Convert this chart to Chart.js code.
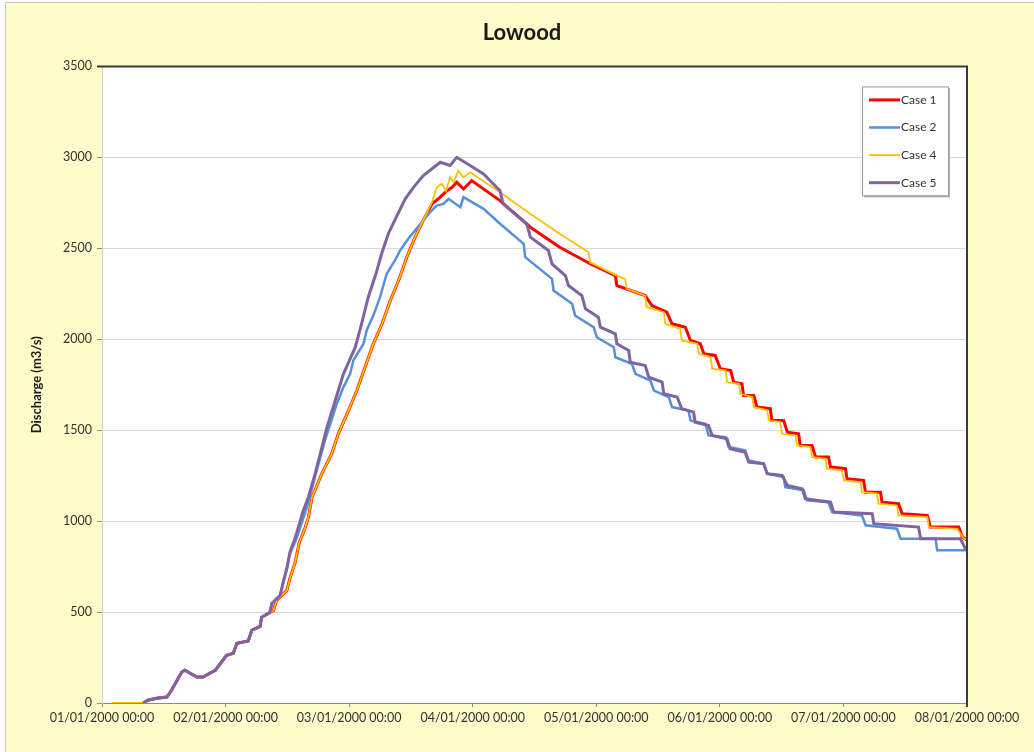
<!DOCTYPE html>
<html>
<head>
<meta charset="utf-8">
<title>Lowood</title>
<script src="https://cdn.jsdelivr.net/npm/chart.js@4.4.1/dist/chart.umd.min.js"></script>
<style>
  html, body { margin: 0; padding: 0; background: #fff; }
  canvas { display: block; }
</style>
</head>
<body>
<canvas id="lowoodChart" width="1034" height="752"></canvas>
<script>
// Tick labels (one per day, x values are hours from 01/01/2000 00:00)
const dayLabels = ['01/01/2000 00:00', '02/01/2000 00:00', '03/01/2000 00:00', '04/01/2000 00:00',
  '05/01/2000 00:00', '06/01/2000 00:00', '07/01/2000 00:00', '08/01/2000 00:00'];

const caseNames = ['Case 1', 'Case 2', 'Case 4', 'Case 5'];

// common start of the hydrograph, all cases
const earlyHours = [8.0, 8.9, 10.6, 12.6, 13.5, 15.5, 16.1, 18.4, 19.6, 22.0, 24.2, 25.5, 26.2, 28.4, 29.1, 30.7, 31.0, 32.6];
const earlyFlow = [0, 15, 26, 33, 70, 170, 180, 143, 143, 180, 262, 273, 328, 341, 400, 421, 471, 498];

// Case 1
const case1Hours = [33.3, 33.9, 35.9, 36.5, 37.5, 38.3, 39.4, 40.1, 40.8, 42.7, 44.6, 45.9, 47.6, 49.5, 51.1, 52.7, 54.4, 56.0,
  57.6, 59.2, 60.8, 62.4, 64.1, 65.7, 67.0, 68.0, 68.9, 70.2, 71.8, 77.3, 83.2, 88.9, 94.8, 99.7, 100.0, 105.5, 106.8,
  109.7, 110.7, 113.3, 114.3, 116.2, 116.9, 119.1, 120.1, 122.1, 122.7, 124.3, 124.6, 126.6, 127.2, 129.8, 130.1, 132.4,
  133.1, 135.3, 135.6, 137.9, 138.6, 141.1, 141.5, 144.4, 144.7, 147.9, 148.3, 151.2, 151.5, 154.7, 155.4, 160.3, 160.9,
  166.4, 167.1, 168];
const case1Flow = [509, 564, 619, 685, 770, 880, 960, 1022, 1132, 1261, 1370, 1480, 1590, 1718, 1847, 1975, 2085, 2213,
  2323, 2451, 2561, 2653, 2744, 2781, 2817, 2835, 2863, 2826, 2872, 2762, 2616, 2506, 2415, 2350, 2295, 2240, 2185,
  2149, 2085, 2066, 1993, 1975, 1920, 1911, 1838, 1828, 1764, 1755, 1691, 1691, 1627, 1618, 1553, 1553, 1489,
  1480, 1416, 1416, 1352, 1352, 1297, 1288, 1233, 1224, 1159, 1159, 1104, 1096, 1041, 1031, 967,
  967, 912, 897];

// Case 2
const case2Hours = [33.0, 34.6, 35.2, 35.9, 36.5, 37.8, 39.8, 41.7, 43.3, 45.6, 46.9, 48.2, 48.8, 50.8, 51.4, 52.7, 54.0,
  55.3, 56.9, 57.9, 59.5, 60.8, 62.1, 63.7, 65.0, 66.3, 67.3, 69.6, 70.2, 74.1, 77.3, 81.9, 82.2, 87.4, 87.7, 91.3, 91.9,
  95.5, 96.1, 99.4, 99.7, 102.9, 103.6, 106.5, 107.2, 110.1, 110.7, 113.9, 114.3, 117.2, 117.8, 121.1, 121.7, 124.9,
  125.6, 128.5, 129.2, 132.4, 132.7, 136.3, 136.9, 141.1, 141.8, 147.6, 148.3, 154.4, 155.1, 161.9, 162.2, 168];
const case2Flow = [548, 592, 665, 740, 820, 905, 1077, 1279, 1444, 1645, 1737, 1810, 1883, 1975, 2048, 2130, 2231,
  2360, 2433, 2488, 2552, 2598, 2643, 2698, 2735, 2744, 2772, 2726, 2781, 2717, 2635, 2524, 2451, 2332, 2268, 2195, 2130,
  2066, 2011, 1956, 1901, 1865, 1810, 1773, 1718, 1682, 1627, 1608, 1553, 1535, 1471, 1462, 1407, 1389,
  1334, 1316, 1261, 1242, 1187, 1169, 1114, 1104, 1050, 1031, 977, 958, 903, 903, 840, 840];

// Case 4 (follows Case 1 on the rising limb)
const case4LeadHours = [1.9];
const case4LeadFlow = [0];
const case4Hours = [64.1, 65.0, 66.0, 66.8, 67.6, 68.3, 69.2, 70.2, 71.5, 77.3, 83.2, 88.9, 94.5, 94.8, 100.0, 101.6,
  101.9, 105.5, 105.8, 109.1, 109.4, 112.3, 112.6, 115.6, 115.9, 118.2, 118.5, 121.1, 121.4, 123.7, 124.0, 126.3, 126.6,
  129.2, 129.5, 131.7, 132.1, 134.7, 135.0, 137.6, 137.9, 140.5, 140.8, 143.7, 144.1, 147.3, 147.6, 150.5, 150.8, 154.4,
  154.7, 160.3, 160.6, 166.1, 167.4, 168];
const case4Flow = [2753, 2835, 2854, 2815, 2890, 2863, 2927, 2890, 2918, 2808, 2689, 2580, 2478, 2423, 2350, 2332,
  2277, 2240, 2176, 2149, 2085, 2057, 1993, 1975, 1920, 1902, 1838, 1828, 1764, 1755, 1700, 1682, 1627,
  1609, 1553, 1544, 1480, 1471, 1416, 1407, 1352, 1343, 1288, 1279, 1224, 1214, 1159, 1151, 1096, 1086,
  1031, 1022, 967, 958, 903, 900];

// Case 5
const case5Hours = [33.0, 34.6, 35.2, 35.9, 36.5, 37.5, 39.1, 40.1, 41.4, 42.4, 43.7, 44.9, 45.9, 46.9, 47.9, 49.2, 50.5,
  51.7, 53.1, 54.4, 55.6, 57.3, 58.9, 60.5, 62.4, 64.1, 65.7, 67.6, 68.9, 71.5, 74.1, 77.3, 77.9, 82.5, 83.2, 86.7, 87.4,
  90.0, 90.6, 93.2, 93.9, 96.4, 96.8, 99.7, 100.0, 102.3, 102.6, 105.5, 106.2, 108.8, 109.1, 111.7, 112.6, 114.9, 115.2,
  117.8, 118.5, 121.4, 122.0, 124.9, 125.6, 128.5, 129.2, 132.1, 133.1, 136.0, 136.6, 141.5, 142.1, 149.6, 149.9, 158.6,
  159.0, 166.7, 167.7, 168];
const case5Flow = [548, 592, 665, 740, 830, 905, 1059, 1133, 1261, 1371, 1517, 1627, 1718, 1810, 1874, 1956, 2094,
  2231, 2350, 2478, 2579, 2680, 2772, 2835, 2900, 2937, 2973, 2955, 3000, 2955, 2909, 2817, 2744, 2634, 2561, 2488, 2414,
  2350, 2295, 2240, 2167, 2121, 2066, 2030, 1975, 1938, 1874, 1856, 1791, 1764, 1700, 1682, 1618, 1599, 1544,
  1526, 1471, 1453, 1398, 1379, 1324, 1316, 1261, 1251, 1196, 1178, 1123, 1104, 1050, 1041, 986, 967,
  903, 903, 848, 848];

const paperColor = '#fffcc9',
  redColor = '#ff0000',
  blueColor = '#5590d8',
  goldColor = '#ffc000',
  purpleColor = '#8064a2',
  fontFamily = 'Lato, "Open Sans", sans-serif';

function series(hours, flow) {
  return hours.map(function(h, i) { return {x: h, y: flow[i]}; });
}

const early = series(earlyHours, earlyFlow);
const case1 = early.concat(series(case1Hours, case1Flow));
const case2 = early.concat(series(case2Hours, case2Flow));
const case4 = series(case4LeadHours, case4LeadFlow)
  .concat(early, series(case1Hours, case1Flow).filter(function(p) { return p.x < 63; }), series(case4Hours, case4Flow));
const case5 = early.concat(series(case5Hours, case5Flow));

// background, plot frame and boxed legend
const framePlugin = {
  id: 'frame',
  beforeDraw(chart) {
    const {ctx, width, height, chartArea: a} = chart;
    ctx.save();
    ctx.fillStyle = '#ffffff';
    ctx.fillRect(0, 0, width, height);
    ctx.fillStyle = paperColor;
    ctx.fillRect(6, 3, width - 6, height - 3);
    ctx.strokeStyle = '#c8c8c8';
    ctx.lineWidth = 1;
    ctx.beginPath();
    ctx.moveTo(5.5, height);
    ctx.lineTo(5.5, 2.5);
    ctx.lineTo(width, 2.5);
    ctx.stroke();
    ctx.fillStyle = '#ffffff';
    ctx.fillRect(a.left, a.top, a.right - a.left, a.bottom - a.top);
    ctx.restore();
  },
  afterDraw(chart) {
    const {ctx, chartArea: a} = chart;
    ctx.save();
    ctx.strokeStyle = '#3a3a3a';
    ctx.lineWidth = 2;
    ctx.beginPath();
    ctx.moveTo(a.left - 5, a.top);
    ctx.lineTo(a.right, a.top);
    ctx.lineTo(a.right, a.bottom + 4);
    ctx.stroke();

    // legend box
    const bx = a.right - 105, by = a.top + 20, bw = 86, bh = 109;
    ctx.fillStyle = '#b4b4b4';
    ctx.fillRect(bx + 2, by + 2, bw, bh);
    ctx.fillStyle = '#ffffff';
    ctx.fillRect(bx, by, bw, bh);
    ctx.strokeStyle = '#9a9a9a';
    ctx.lineWidth = 1;
    ctx.strokeRect(bx + 0.5, by + 0.5, bw, bh);
    ctx.font = '12px ' + fontFamily;
    ctx.textBaseline = 'middle';
    ctx.textAlign = 'left';
    chart.data.datasets.forEach(function(ds, i) {
      const y = by + 13.5 + i * 27.6;
      ctx.strokeStyle = ds.borderColor;
      ctx.lineWidth = ds.borderWidth;
      ctx.beginPath();
      ctx.moveTo(bx + 7, y);
      ctx.lineTo(bx + 38, y);
      ctx.stroke();
      ctx.fillStyle = '#333333';
      ctx.fillText(ds.label, bx + 39, y);
    });
    ctx.restore();
  }
};

const ctx = document.getElementById('lowoodChart');
new Chart(ctx, {
  type: 'line',
  data: {
    datasets: [
      {label: caseNames[0], data: case1, borderColor: redColor, borderWidth: 3, order: 4},
      {label: caseNames[1], data: case2, borderColor: blueColor, borderWidth: 2.5, order: 3},
      {label: caseNames[2], data: case4, borderColor: goldColor, borderWidth: 1.8, order: 2},
      {label: caseNames[3], data: case5, borderColor: purpleColor, borderWidth: 3, order: 1}
    ]
  },
  options: {
    responsive: false,
    animation: false,
    events: [],
    layout: {padding: {left: 10, right: 0, top: 0, bottom: 0}},
    elements: {
      line: {tension: 0, fill: false},
      point: {radius: 0}
    },
    plugins: {
      legend: {display: false},
      tooltip: {enabled: false},
      title: {
        display: true,
        text: 'Lowood',
        color: '#1a1a1a',
        font: {family: fontFamily, size: 22, weight: 'bold'},
        padding: {top: 20, bottom: 20}
      }
    },
    scales: {
      x: {
        type: 'linear',
        min: 0,
        max: 168,
        ticks: {
          stepSize: 24,
          autoSkip: false,
          maxRotation: 0,
          padding: 3,
          color: '#333333',
          font: {family: fontFamily, size: 12.5},
          callback: function(value) { return dayLabels[value / 24]; }
        },
        grid: {drawOnChartArea: false, tickLength: 4, color: '#8c8c8c'},
        border: {color: '#8c8c8c', width: 1},
        afterFit: function(scale) { scale.height = 49; }
      },
      y: {
        min: 0,
        max: 3500,
        ticks: {
          stepSize: 500,
          padding: 5,
          color: '#333333',
          font: {family: fontFamily, size: 12.5},
          callback: function(value) { return String(value); }
        },
        grid: {color: '#d9d9d9', tickColor: '#8c8c8c', tickLength: 5},
        border: {color: '#cfcfcf'},
        title: {
          display: true,
          text: 'Discharge (m3/s)',
          color: '#1a1a1a',
          font: {family: fontFamily, size: 13, weight: 'bold'},
          padding: {top: 19, bottom: 0}
        },
        afterFit: function(scale) { scale.width = 92; }
      },
      yRight: {
        position: 'right',
        display: true,
        grid: {display: false},
        ticks: {display: false},
        border: {display: false},
        afterFit: function(scale) { scale.width = 67; }
      }
    }
  },
  plugins: [framePlugin]
});
</script>
</body>
</html>
